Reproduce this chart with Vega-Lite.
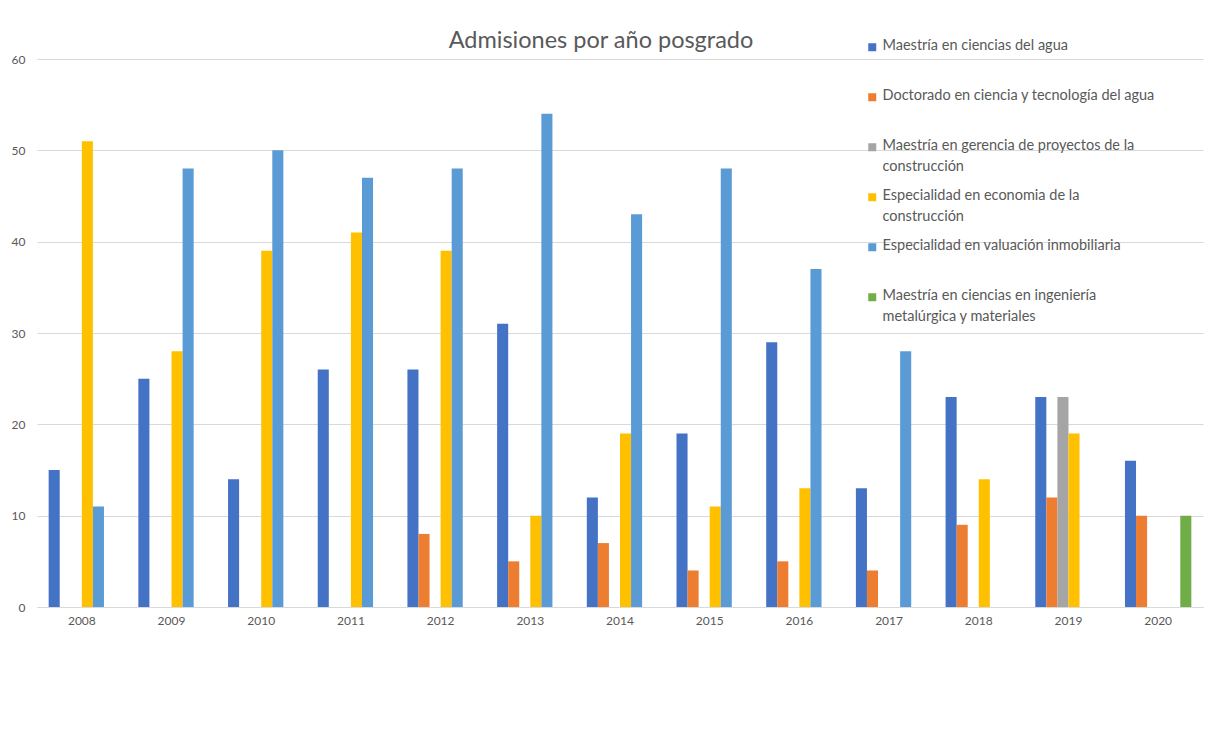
{
  "$schema": "https://vega.github.io/schema/vega-lite/v6.json",
  "width": 1166,
  "height": 548,
  "autosize": {"type": "none"},
  "padding": {"left": 37, "top": 59, "right": 15, "bottom": 126},
  "background": "white",
  "title": {"text": "Admisiones por año posgrado", "fontSize": 23.5, "font": "Lato", "fontWeight": "normal", "color": "#595959", "anchor": "middle", "dx": -19, "offset": -12},
  "data": {"values": [
    {"year": "2008", "programa": "Maestría en ciencias del agua", "admisiones": 15},
    {"year": "2008", "programa": "Especialidad en economia de la construcción", "admisiones": 51},
    {"year": "2008", "programa": "Especialidad en valuación inmobiliaria", "admisiones": 11},
    {"year": "2009", "programa": "Maestría en ciencias del agua", "admisiones": 25},
    {"year": "2009", "programa": "Especialidad en economia de la construcción", "admisiones": 28},
    {"year": "2009", "programa": "Especialidad en valuación inmobiliaria", "admisiones": 48},
    {"year": "2010", "programa": "Maestría en ciencias del agua", "admisiones": 14},
    {"year": "2010", "programa": "Especialidad en economia de la construcción", "admisiones": 39},
    {"year": "2010", "programa": "Especialidad en valuación inmobiliaria", "admisiones": 50},
    {"year": "2011", "programa": "Maestría en ciencias del agua", "admisiones": 26},
    {"year": "2011", "programa": "Especialidad en economia de la construcción", "admisiones": 41},
    {"year": "2011", "programa": "Especialidad en valuación inmobiliaria", "admisiones": 47},
    {"year": "2012", "programa": "Maestría en ciencias del agua", "admisiones": 26},
    {"year": "2012", "programa": "Doctorado en ciencia y tecnología del agua", "admisiones": 8},
    {"year": "2012", "programa": "Especialidad en economia de la construcción", "admisiones": 39},
    {"year": "2012", "programa": "Especialidad en valuación inmobiliaria", "admisiones": 48},
    {"year": "2013", "programa": "Maestría en ciencias del agua", "admisiones": 31},
    {"year": "2013", "programa": "Doctorado en ciencia y tecnología del agua", "admisiones": 5},
    {"year": "2013", "programa": "Especialidad en economia de la construcción", "admisiones": 10},
    {"year": "2013", "programa": "Especialidad en valuación inmobiliaria", "admisiones": 54},
    {"year": "2014", "programa": "Maestría en ciencias del agua", "admisiones": 12},
    {"year": "2014", "programa": "Doctorado en ciencia y tecnología del agua", "admisiones": 7},
    {"year": "2014", "programa": "Especialidad en economia de la construcción", "admisiones": 19},
    {"year": "2014", "programa": "Especialidad en valuación inmobiliaria", "admisiones": 43},
    {"year": "2015", "programa": "Maestría en ciencias del agua", "admisiones": 19},
    {"year": "2015", "programa": "Doctorado en ciencia y tecnología del agua", "admisiones": 4},
    {"year": "2015", "programa": "Especialidad en economia de la construcción", "admisiones": 11},
    {"year": "2015", "programa": "Especialidad en valuación inmobiliaria", "admisiones": 48},
    {"year": "2016", "programa": "Maestría en ciencias del agua", "admisiones": 29},
    {"year": "2016", "programa": "Doctorado en ciencia y tecnología del agua", "admisiones": 5},
    {"year": "2016", "programa": "Especialidad en economia de la construcción", "admisiones": 13},
    {"year": "2016", "programa": "Especialidad en valuación inmobiliaria", "admisiones": 37},
    {"year": "2017", "programa": "Maestría en ciencias del agua", "admisiones": 13},
    {"year": "2017", "programa": "Doctorado en ciencia y tecnología del agua", "admisiones": 4},
    {"year": "2017", "programa": "Especialidad en valuación inmobiliaria", "admisiones": 28},
    {"year": "2018", "programa": "Maestría en ciencias del agua", "admisiones": 23},
    {"year": "2018", "programa": "Doctorado en ciencia y tecnología del agua", "admisiones": 9},
    {"year": "2018", "programa": "Especialidad en economia de la construcción", "admisiones": 14},
    {"year": "2019", "programa": "Maestría en ciencias del agua", "admisiones": 23},
    {"year": "2019", "programa": "Doctorado en ciencia y tecnología del agua", "admisiones": 12},
    {"year": "2019", "programa": "Maestría en gerencia de proyectos de la construcción", "admisiones": 23},
    {"year": "2019", "programa": "Especialidad en economia de la construcción", "admisiones": 19},
    {"year": "2020", "programa": "Maestría en ciencias del agua", "admisiones": 16},
    {"year": "2020", "programa": "Doctorado en ciencia y tecnología del agua", "admisiones": 10},
    {"year": "2020", "programa": "Maestría en ciencias en ingeniería metalúrgica y materiales", "admisiones": 10}
  ]},
  "mark": {"type": "bar"},
  "encoding": {
    "x": {
      "field": "year", "type": "nominal",
      "scale": {"paddingInner": 0.26, "paddingOuter": 0.13},
      "axis": {"title": null, "labelAngle": 0, "ticks": false, "domainColor": "#D9D9D9", "labelColor": "#595959", "labelFontSize": 12, "labelPadding": 8}
    },
    "xOffset": {
      "field": "programa", "type": "nominal",
      "scale": {"domain": ["Maestría en ciencias del agua", "Doctorado en ciencia y tecnología del agua", "Maestría en gerencia de proyectos de la construcción", "Especialidad en economia de la construcción", "Especialidad en valuación inmobiliaria", "Maestría en ciencias en ingeniería metalúrgica y materiales"], "paddingInner": 0, "paddingOuter": 0}
    },
    "y": {
      "field": "admisiones", "type": "quantitative",
      "scale": {"domain": [0, 60]},
      "axis": {"title": null, "values": [0, 10, 20, 30, 40, 50, 60], "domain": false, "ticks": false, "gridColor": "#D9D9D9", "labelColor": "#595959", "labelFontSize": 12, "labelPadding": 12}
    },
    "color": {
      "field": "programa", "type": "nominal",
      "scale": {
        "domain": ["Maestría en ciencias del agua", "Doctorado en ciencia y tecnología del agua", "Maestría en gerencia de proyectos de la construcción", "Especialidad en economia de la construcción", "Especialidad en valuación inmobiliaria", "Maestría en ciencias en ingeniería metalúrgica y materiales"],
        "range": ["#4472C4", "#ED7D31", "#A5A5A5", "#FFC000", "#5B9BD5", "#70AD47"]
      },
      "legend": {
        "title": null, "orient": "none", "legendX": 828, "legendY": -19, "padding": 0,
        "symbolType": "square", "symbolSize": 64, "symbolStrokeWidth": 0,
        "labelFontSize": 14.5, "labelColor": "#595959", "labelLimit": 400, "labelOffset": 3,
        "rowPadding": 14, "gridAlign": "all", "labelBaseline": "top",
        "labelExpr": "datum.label == 'Maestría en gerencia de proyectos de la construcción' ? ['Maestría en gerencia de proyectos de la', 'construcción'] : datum.label == 'Especialidad en economia de la construcción' ? ['Especialidad en economia de la', 'construcción'] : datum.label == 'Maestría en ciencias en ingeniería metalúrgica y materiales' ? ['Maestría en ciencias en ingeniería', 'metalúrgica y materiales'] : datum.label",
        "encode": {"labels": {"update": {"dy": {"value": -8}, "lineHeight": {"value": 21}}}}
      }
    }
  },
  "config": {"view": {"stroke": null}, "font": "Lato"}
}
